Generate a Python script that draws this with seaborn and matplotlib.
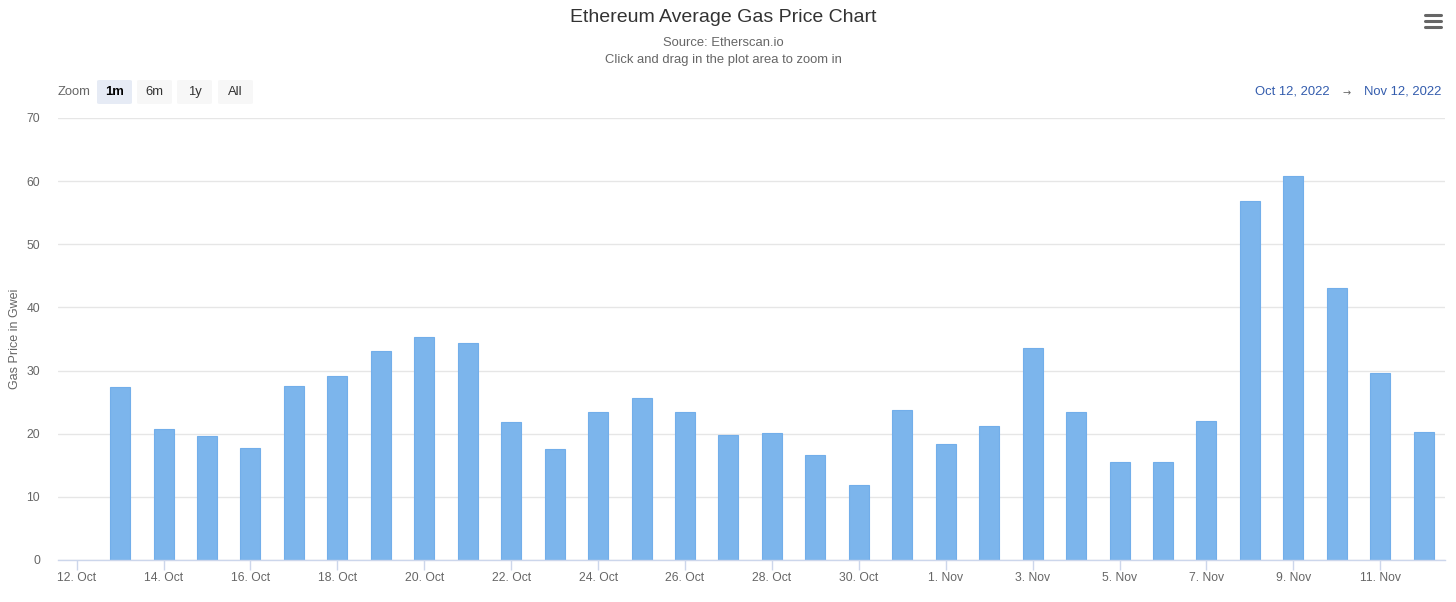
import matplotlib
matplotlib.use("Agg")
import matplotlib.pyplot as plt
from matplotlib.patches import FancyBboxPatch
import seaborn as sns
import pandas as pd

# ================================================= [ data ] =======================================================
days = list(range(1, 32))  # day offset from 12 Oct 2022
gas_price = [27.4, 20.7, 19.6, 17.7, 27.6, 29.1, 33.1, 35.3, 34.4, 21.9,
             17.6, 23.4, 25.7, 23.4, 19.8, 20.1, 16.6, 11.9, 23.8, 18.4,
             21.2, 33.6, 23.4, 15.5, 15.5, 22.0, 56.9, 60.8, 43.1, 29.6, 20.3]
tick_days = list(range(0, 31, 2))
tick_labels = ["12. Oct", "14. Oct", "16. Oct", "18. Oct", "20. Oct", "22. Oct", "24. Oct", "26. Oct",
               "28. Oct", "30. Oct", "1. Nov", "3. Nov", "5. Nov", "7. Nov", "9. Nov", "11. Nov"]
y_ticks = [0, 10, 20, 30, 40, 50, 60, 70]
zoom_buttons = ["1m", "6m", "1y", "All"]

df = pd.DataFrame({"day": days, "gas": gas_price})

# ================================================= [ plot ] =======================================================
sns.set_style("white")
plt.rcParams["font.family"] = ["Liberation Sans", "DejaVu Sans"]

W, H = 1456, 602
fig = plt.figure(figsize=(W / 100, H / 100), dpi=100)
ax = fig.add_axes([58 / W, 1 - 560 / H, (1445 - 58) / W, (560 - 118) / H])

sns.barplot(data=df, x="day", y="gas", native_scale=True, width=0.46,
            color="#7cb5ec", edgecolor="#72aeea", linewidth=0.8, saturation=1, ax=ax, zorder=3)

ax.set_xlim(-0.43, 31.49)
ax.set_ylim(0, 70)
ax.set_yticks(y_ticks)
ax.set_yticklabels([str(v) for v in y_ticks])
ax.set_xticks(tick_days)
ax.set_xticklabels(tick_labels)
ax.grid(axis="y", color="#e6e6e6", linewidth=1, zorder=0)
ax.grid(axis="x", visible=False)
for s in ["top", "right", "left"]:
    ax.spines[s].set_visible(False)
ax.spines["bottom"].set_color("#ccd6eb")
ax.spines["bottom"].set_linewidth(1)
ax.spines["bottom"].set_zorder(4)
ax.tick_params(axis="x", bottom=True, direction="out", length=7, width=1, color="#ccd6eb",
               labelcolor="#666666", labelsize=8.7, pad=1.5)
ax.tick_params(axis="y", left=False, length=0, labelcolor="#666666", labelsize=8.7, pad=13)
ax.set_xlabel("")
ax.set_ylabel("Gas Price in Gwei", color="#666666", fontsize=9)
ax.yaxis.set_label_coords((21 - 58) / (1445 - 58), 0.5)

# titles
fig.text(723 / W, 1 - 18 / H, "Ethereum Average Gas Price Chart", ha="center", va="center",
         fontsize=14, color="#333333")
fig.text(723 / W, 1 - 43 / H, "Source: Etherscan.io", ha="center", va="center", fontsize=9.4, color="#666666")
fig.text(723 / W, 1 - 60 / H, "Click and drag in the plot area to zoom in", ha="center", va="center",
         fontsize=9.4, color="#666666")

# zoom buttons
fig.text(58 / W, 1 - 92 / H, "Zoom", ha="left", va="center", fontsize=9.4, color="#666666")
btn_x = [97, 137, 177, 218]
for i, (bx, lab) in enumerate(zip(btn_x, zoom_buttons)):
    fc = "#e6ebf5" if i == 0 else "#f7f7f7"
    fig.patches.append(FancyBboxPatch((bx / W, 1 - 104 / H), 35 / W, 24 / H,
                                      boxstyle="round,pad=0,rounding_size=0.002",
                                      transform=fig.transFigure, facecolor=fc, edgecolor="none"))
    fig.text((bx + 17.5) / W, 1 - 92 / H, lab, ha="center", va="center", fontsize=9.4,
             color="#000000" if i == 0 else "#333333", fontweight="bold" if i == 0 else "normal")

# date range
fig.text(1330 / W, 1 - 92 / H, "Oct 12, 2022", ha="right", va="center", fontsize=9.4, color="#335cad")
fig.text(1347 / W, 1 - 93 / H, "\u2192", ha="center", va="center", fontsize=7, color="#666666",
         family="DejaVu Sans")
fig.text(1441 / W, 1 - 92 / H, "Nov 12, 2022", ha="right", va="center", fontsize=9.4, color="#335cad")

# menu icon
for yy in [15, 21, 27]:
    fig.add_artist(plt.Line2D([1425 / W, 1441 / W], [1 - yy / H, 1 - yy / H], transform=fig.transFigure,
                              color="#666666", linewidth=2.2, solid_capstyle="round"))

fig.savefig("out.png", dpi=100, facecolor="white")
